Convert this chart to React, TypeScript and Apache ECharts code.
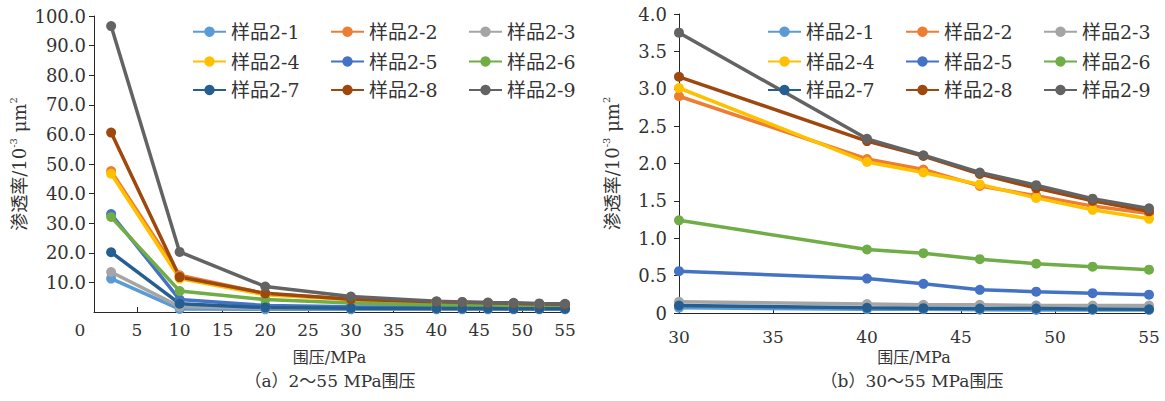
import React, { useEffect, useRef } from "react";
import * as echarts from "echarts";

const names = ["样品2-1", "样品2-2", "样品2-3", "样品2-4", "样品2-5", "样品2-6", "样品2-7", "样品2-8", "样品2-9"];
const colors = ["#5B9BD5", "#ED7D31", "#A5A5A5", "#FFC000", "#4472C4", "#70AD47", "#255E91", "#9E480E", "#636363"];

// Panel (a): 2~55 MPa
const pressureA = [2, 10, 20, 30, 40, 43, 46, 49, 52, 55];
const a1 = [11.3, 1.0, 0.9, 0.9, 0.9, 0.9, 0.9, 0.9, 0.9, 0.9];
const a2 = [47.6, 12.4, 6.2, 4.4, 3.4, 3.2, 3.0, 2.8, 2.6, 2.5];
const a3 = [13.5, 1.8, 1.3, 1.2, 1.1, 1.1, 1.1, 1.1, 1.1, 1.1];
const a4 = [46.7, 11.3, 5.8, 4.2, 3.3, 3.1, 2.9, 2.7, 2.5, 2.4];
const a5 = [33.1, 4.2, 2.2, 1.8, 1.6, 1.5, 1.4, 1.4, 1.3, 1.3];
const a6 = [32.1, 7.1, 4.2, 3.0, 2.4, 2.3, 2.2, 2.1, 2.0, 1.9];
const a7 = [20.2, 2.8, 1.5, 1.3, 1.2, 1.2, 1.2, 1.1, 1.1, 1.1];
const a8 = [60.6, 11.8, 6.3, 4.3, 3.5, 3.3, 3.1, 2.9, 2.7, 2.6];
const a9 = [96.6, 20.3, 8.6, 5.2, 3.6, 3.4, 3.2, 3.1, 2.9, 2.8];
const panelA = [a1, a2, a3, a4, a5, a6, a7, a8, a9];

// Panel (b): 30~55 MPa
const pressureB = [30, 40, 43, 46, 49, 52, 55];
const b1 = [0.07, 0.05, 0.05, 0.045, 0.04, 0.04, 0.04];
const b2 = [2.9, 2.06, 1.92, 1.7, 1.57, 1.43, 1.33];
const b3 = [0.15, 0.12, 0.11, 0.11, 0.1, 0.1, 0.1];
const b4 = [3.01, 2.02, 1.88, 1.72, 1.54, 1.38, 1.26];
const b5 = [0.56, 0.46, 0.39, 0.31, 0.285, 0.265, 0.245];
const b6 = [1.24, 0.85, 0.8, 0.72, 0.66, 0.62, 0.58];
const b7 = [0.1, 0.07, 0.065, 0.06, 0.06, 0.055, 0.05];
const b8 = [3.16, 2.3, 2.1, 1.86, 1.67, 1.5, 1.36];
const b9 = [3.75, 2.33, 2.11, 1.88, 1.71, 1.53, 1.4];
const panelB = [b1, b2, b3, b4, b5, b6, b7, b8, b9];

const xTitle = "围压/MPa";
const yTitle = "渗透率/10{sup|-3} μm{sup|2}";
const captionA = "（a）2～55 MPa围压";
const captionB = "（b）30～55 MPa围压";

const FONT = '"DejaVu Serif", "Noto Sans CJK SC", serif';
const TXT = "#333333";
const AXIS = "#262626";

export default function App() {
  const ref = useRef<HTMLDivElement>(null);
  useEffect(() => {
    document.body.style.margin = "0";
    if (!ref.current) return;
    const chart = echarts.init(ref.current, undefined, { renderer: "svg" });

    const legendCols = [[192, 330, 468], [767, 905, 1043]];
    const legendRows = [31.7, 61.5, 90];
    const legends: any[] = [];
    legendCols.forEach((cols) => {
      names.forEach((n, i) => {
        legends.push({
          left: cols[i % 3],
          top: legendRows[Math.floor(i / 3)] - 10,
          data: [n],
          padding: 0,
          itemWidth: 33,
          itemHeight: 13,
          selectedMode: false,
          textStyle: { fontSize: 19, lineHeight: 20, fontFamily: FONT, color: TXT },
        });
      });
    });

    const axisCommonY = {
      axisLine: { show: true, lineStyle: { color: AXIS, width: 1 } },
      axisTick: { show: true, inside: false, length: 5, lineStyle: { color: AXIS } },
      splitLine: { show: false },
      nameLocation: "middle",
      nameRotate: 90,
      nameTextStyle: {
        fontSize: 18,
        fontFamily: FONT,
        color: TXT,
        lineHeight: 22,
        rich: { sup: { fontSize: 10, verticalAlign: "top", lineHeight: 22, fontFamily: FONT, color: TXT } },
      },
    };
    const axisCommonX = {
      type: "value",
      interval: 5,
      axisLine: { show: true, lineStyle: { color: AXIS, width: 1 } },
      axisTick: { show: true, inside: true, length: 5, lineStyle: { color: AXIS } },
      splitLine: { show: false },
      nameLocation: "middle",
      nameTextStyle: { fontSize: 16, fontFamily: FONT, color: TXT },
    };

    const makeSeries = (arr: number[], xs: number[], i: number, idx: number) => ({
      name: names[i],
      type: "line",
      xAxisIndex: idx,
      yAxisIndex: idx,
      data: xs.map((x, k) => [x, arr[k]]),
      symbol: "circle",
      symbolSize: 10,
      showAllSymbol: true,
      lineStyle: { width: 3.5, color: colors[i] },
      itemStyle: { color: colors[i] },
    });
    const series: any[] = [
      ...panelA.map((arr, i) => makeSeries(arr, pressureA, i, 0)),
      ...panelB.map((arr, i) => makeSeries(arr, pressureB, i, 1)),
    ];

    chart.setOption({
      animation: false,
      color: colors,
      legend: legends,
      grid: [
        { left: 94, top: 16, width: 471, height: 296 },
        { left: 679, top: 14, width: 470, height: 299 },
      ],
      xAxis: [
        {
          ...axisCommonX,
          gridIndex: 0,
          min: 0,
          max: 55,
          name: xTitle,
          nameGap: 37,
          axisLabel: {
            margin: 9,
            fontSize: 17,
            fontFamily: FONT,
            color: TXT,
            formatter: (v: number) => (v === 0 ? "{z|0}" : String(v)),
            rich: { z: { fontSize: 17, fontFamily: FONT, color: TXT, padding: [0, 28, 0, 0] } },
          },
        },
        {
          ...axisCommonX,
          gridIndex: 1,
          min: 30,
          max: 55,
          name: xTitle,
          nameGap: 36,
          axisLabel: { margin: 15, fontSize: 17, fontFamily: FONT, color: TXT },
        },
      ],
      yAxis: [
        {
          ...axisCommonY,
          type: "value",
          gridIndex: 0,
          min: 0,
          max: 100,
          interval: 10,
          name: yTitle,
          nameGap: 62,
          axisLabel: {
            margin: 8,
            fontSize: 18,
            fontFamily: FONT,
            color: TXT,
            showMinLabel: false,
            formatter: (v: number) => v.toFixed(1),
          },
        },
        {
          ...axisCommonY,
          type: "value",
          gridIndex: 1,
          min: 0,
          max: 4,
          interval: 0.5,
          name: yTitle,
          nameGap: 56,
          axisLabel: {
            margin: 12,
            fontSize: 18,
            fontFamily: FONT,
            color: TXT,
            formatter: (v: number) => (v === 0 ? "0" : v.toFixed(1)),
          },
        },
      ],
      graphic: [
        {
          type: "text",
          x: 330,
          y: 381,
          style: { text: captionA, fontSize: 17, fontFamily: FONT, fill: TXT, align: "center", verticalAlign: "middle" },
        },
        {
          type: "text",
          x: 912,
          y: 381,
          style: { text: captionB, fontSize: 17, fontFamily: FONT, fill: TXT, align: "center", verticalAlign: "middle" },
        },
      ],
      series,
    });
    return () => chart.dispose();
  }, []);
  return <div ref={ref} style={{ width: 1165, height: 401 }} />;
}
